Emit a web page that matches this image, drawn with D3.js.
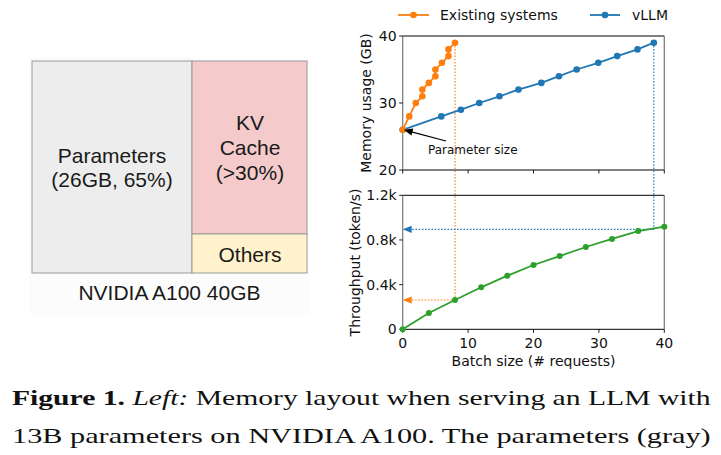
<!DOCTYPE html>
<html><head><meta charset="utf-8">
<script src="https://cdn.jsdelivr.net/npm/d3@7"></script>
<style>html,body{margin:0;padding:0;background:#fff;}svg{display:block;}</style>
</head><body>
<svg id="c" width="721" height="455"></svg>
<script>
// ---- data ----
const existingBatch = [0, 1, 2, 3, 3, 4, 5, 5, 6, 7, 7, 8];
const existingMem   = [26, 28, 30, 31, 32, 33, 34, 35, 36, 37, 38, 39];
const vllmBatch = [0, 5.9, 8.9, 11.7, 14.8, 17.7, 21.2, 23.9, 26.6, 29.9, 32.8, 35.9, 38.4];
const vllmMem   = [26, 28, 29, 30, 31, 32, 33, 34, 35, 36, 37, 38, 39];
const tputBatch = [0, 4, 8, 12, 16, 20, 24, 28, 32, 36, 40];
const tputValues = [0, 146, 262, 376, 480, 576, 656, 737, 809, 880, 919];
const existingMaxBatch = 8, existingTput = 262;
const vllmMaxBatch = 38.4, vllmTput = 895;
const paramSize = 26;
const xTicks = [0, 10, 20, 30, 40];
const memTicks = [20, 30, 40];
const tputTicks = [0, 400, 800, 1200];
const tputTickLabels = ["0", "0.4k", "0.8k", "1.2k"];
const seriesNames = ["Existing systems", "vLLM"];
const layoutBlocks = ["Parameters", "KV Cache", "Others"];

const svg = d3.select("#c");
const ORANGE = "#ff7f0e", BLUE = "#1f77b4", GREEN = "#2ca02c";
const FONT = "DejaVu Sans, sans-serif";

// ---- left diagram ----
svg.append("rect").attr("x", 29).attr("y", 57).attr("width", 280).attr("height", 258).attr("fill", "#fcfcfc");
const L = {x0: 32, x1: 192, x2: 307, y0: 61, y1: 234, y2: 273};
svg.append("rect").attr("x", L.x0).attr("y", L.y0).attr("width", L.x1 - L.x0).attr("height", L.y2 - L.y0)
  .attr("fill", "#ededed").attr("stroke", "#9a9a9a").attr("stroke-width", 1);
svg.append("rect").attr("x", L.x1).attr("y", L.y0).attr("width", L.x2 - L.x1).attr("height", L.y1 - L.y0)
  .attr("fill", "#f4cacb").attr("stroke", "#9a9a9a").attr("stroke-width", 1);
svg.append("rect").attr("x", L.x1).attr("y", L.y1).attr("width", L.x2 - L.x1).attr("height", L.y2 - L.y1)
  .attr("fill", "#fff2cc").attr("stroke", "#9a9a9a").attr("stroke-width", 1);
const SANS = "Liberation Sans, Arial, sans-serif";
function ltext(x, y, t, size) {
  svg.append("text").attr("x", x).attr("y", y).attr("text-anchor", "middle")
    .attr("font-family", SANS).attr("font-size", size).attr("fill", "#1a1a1a").text(t);
}
ltext(112, 163, layoutBlocks[0], 21);
ltext(112, 187, "(26GB, 65%)", 21);
ltext(250, 130, "KV", 21);
ltext(250, 155, "Cache", 21);
ltext(250, 180, "(>30%)", 21);
ltext(250, 262, layoutBlocks[2], 21);
ltext(169.5, 300, "NVIDIA A100 40GB", 21);

// ---- scales ----
const x = d3.scaleLinear().domain([0, 40]).range([402.7, 664.3]);
const yMem = d3.scaleLinear().domain([20, 40]).range([170, 36]);
const yTput = d3.scaleLinear().domain([0, 1200]).range([329.3, 195.3]);

// reference dotted lines
const dash = "1.6,1.6";
svg.append("line").attr("x1", x(existingMaxBatch)).attr("x2", x(existingMaxBatch))
  .attr("y1", yMem(existingMem[existingMem.length - 1])).attr("y2", yTput(existingTput))
  .attr("stroke", ORANGE).attr("stroke-width", 1.1).attr("stroke-dasharray", dash);
svg.append("line").attr("x1", x(vllmMaxBatch)).attr("x2", x(vllmMaxBatch))
  .attr("y1", yMem(vllmMem[vllmMem.length - 1])).attr("y2", yTput(vllmTput))
  .attr("stroke", BLUE).attr("stroke-width", 1.1).attr("stroke-dasharray", dash);
function hArrow(xFrom, val, col) {
  const yy = yTput(val);
  svg.append("line").attr("x1", x(xFrom)).attr("x2", x(0) + 8).attr("y1", yy).attr("y2", yy)
    .attr("stroke", col).attr("stroke-width", 1.1).attr("stroke-dasharray", dash);
  const tx = x(0);
  svg.append("path").attr("d", `M${tx},${yy} L${tx + 9},${yy - 3.6} L${tx + 9},${yy + 3.6} Z`).attr("fill", col);
}
hArrow(existingMaxBatch, existingTput, ORANGE);
hArrow(vllmMaxBatch, vllmTput, BLUE);

// ---- frames & axes ----
function frame(yScale, ticks, labels, showX) {
  const [yb, yt] = yScale.range();
  const xl = x.range()[0], xr = x.range()[1];
  svg.append("line").attr("x1", xl).attr("x2", xr).attr("y1", yt).attr("y2", yt).attr("stroke", "#000").attr("stroke-width", 1);
  svg.append("line").attr("x1", xl).attr("x2", xr).attr("y1", yb).attr("y2", yb).attr("stroke", "#000").attr("stroke-width", 1);
  svg.append("line").attr("x1", xl).attr("x2", xl).attr("y1", yt).attr("y2", yb).attr("stroke", "#808080").attr("stroke-width", 1.3);
  svg.append("line").attr("x1", xr).attr("x2", xr).attr("y1", yt).attr("y2", yb).attr("stroke", "#808080").attr("stroke-width", 1.3);
  ticks.forEach((t, i) => {
    const yy = yScale(t);
    svg.append("line").attr("x1", xl - 3.5).attr("x2", xl).attr("y1", yy).attr("y2", yy).attr("stroke", "#000").attr("stroke-width", 0.9);
    svg.append("text").attr("x", xl - 6).attr("y", yy).attr("dy", "0.36em").attr("text-anchor", "end")
      .attr("font-family", FONT).attr("font-size", 14).attr("fill", "#111").text(labels[i]);
  });
  xTicks.forEach(t => {
    svg.append("line").attr("x1", x(t)).attr("x2", x(t)).attr("y1", yb).attr("y2", yb + 3.5).attr("stroke", "#000").attr("stroke-width", 0.9);
    if (showX) svg.append("text").attr("x", x(t)).attr("y", yb + 19).attr("text-anchor", "middle")
      .attr("font-family", FONT).attr("font-size", 14).attr("fill", "#111").text(t);
  });
}
frame(yMem, memTicks, memTicks.map(String), false);
frame(yTput, tputTicks, tputTickLabels, true);

svg.append("text").attr("transform", "translate(366,103) rotate(-90)").attr("text-anchor", "middle")
  .attr("dominant-baseline", "central").attr("font-family", FONT).attr("font-size", 14).attr("fill", "#111").text("Memory usage (GB)");
svg.append("text").attr("transform", "translate(355,262.5) rotate(-90)").attr("text-anchor", "middle")
  .attr("dominant-baseline", "central").attr("font-family", FONT).attr("font-size", 14).attr("fill", "#111").text("Throughput (token/s)");
svg.append("text").attr("x", x(20)).attr("y", 366).attr("text-anchor", "middle")
  .attr("font-family", FONT).attr("font-size", 14).attr("fill", "#111").text("Batch size (# requests)");

// ---- series ----
function series(xs, ys, yScale, col, r, w) {
  const pts = xs.map((v, i) => [x(v), yScale(ys[i])]);
  svg.append("path").attr("d", d3.line()(pts)).attr("fill", "none").attr("stroke", col).attr("stroke-width", w);
  svg.append("g").selectAll("circle").data(pts).join("circle")
    .attr("cx", d => d[0]).attr("cy", d => d[1]).attr("r", r).attr("fill", col);
}
series(vllmBatch, vllmMem, yMem, BLUE, 3.3, 1.8);
series(existingBatch, existingMem, yMem, ORANGE, 3.3, 1.8);
series(tputBatch, tputValues, yTput, GREEN, 3, 1.8);

// annotation
const ax = x(0) + 1, ay = yMem(paramSize);
svg.append("line").attr("x1", 446).attr("y1", 141).attr("x2", ax + 6).attr("y2", ay + 1.6).attr("stroke", "#000").attr("stroke-width", 1.2);
(function () {
  const ang = Math.atan2(141 - ay, 446 - ax);
  const L2 = 9, W = 3.6;
  const bx = ax + L2 * Math.cos(ang), by = ay + L2 * Math.sin(ang);
  const px = -Math.sin(ang) * W, py = Math.cos(ang) * W;
  svg.append("path").attr("d", `M${ax},${ay} L${bx + px},${by + py} L${bx - px},${by - py} Z`).attr("fill", "#000");
})();
svg.append("text").attr("x", 428).attr("y", 153.5).attr("font-family", FONT).attr("font-size", 12).attr("fill", "#111").text("Parameter size");

// ---- legend ----
function legendItem(x1, x2, tx, col, label) {
  svg.append("line").attr("x1", x1).attr("x2", x2).attr("y1", 15).attr("y2", 15).attr("stroke", col).attr("stroke-width", 1.8);
  svg.append("circle").attr("cx", (x1 + x2) / 2).attr("cy", 15).attr("r", 3.3).attr("fill", col);
  svg.append("text").attr("x", tx).attr("y", 20).attr("font-family", FONT).attr("font-size", 14).attr("fill", "#111").text(label);
}
legendItem(398, 429, 440, ORANGE, seriesNames[0]);
legendItem(590, 620, 632, BLUE, seriesNames[1]);

// ---- caption ----
const SERIF = "Liberation Serif, Times New Roman, serif";
function capLine(y, parts, x0, x1) {
  const g = svg.append("g");
  const t = g.append("text").attr("x", 0).attr("y", 0).attr("font-family", SERIF).attr("font-size", 22).attr("fill", "#111");
  parts.forEach(p => {
    const s = t.append("tspan").text(p.t);
    if (p.b) s.attr("font-weight", "bold");
    if (p.i) s.attr("font-style", "italic");
  });
  const w = t.node().getComputedTextLength();
  g.attr("transform", `translate(${x0},${y}) scale(${(x1 - x0) / w},1)`);
}
capLine(405, [{t: "Figure 1.", b: true}, {t: " "}, {t: "Left:", i: true}, {t: " Memory layout when serving an LLM with"}], 12, 711);
capLine(443, [{t: "13B parameters on NVIDIA A100. The parameters (gray)"}], 12, 711);
</script>
</body></html>
